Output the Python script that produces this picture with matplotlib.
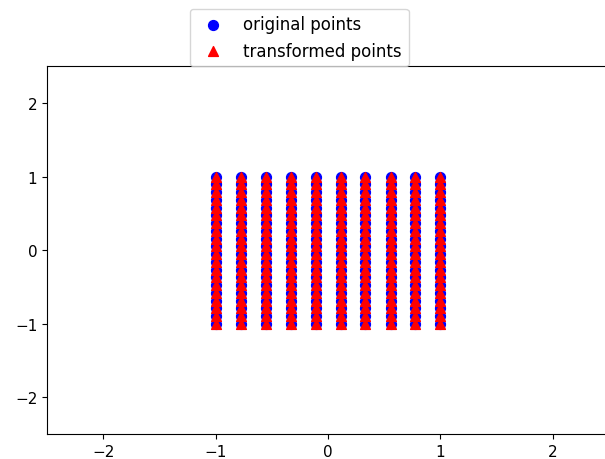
import numpy as np
import matplotlib.pyplot as plt

# grid columns (x) and rows (y) of the sample points
x_vals = [-1.0, -0.778, -0.556, -0.333, -0.111, 0.111, 0.333, 0.556, 0.778, 1.0]
y_vals = [-1.0, -0.895, -0.789, -0.684, -0.579, -0.474, -0.368, -0.263, -0.158, -0.053,
          0.053, 0.158, 0.263, 0.368, 0.474, 0.579, 0.684, 0.789, 0.895, 1.0]

xx, yy = np.meshgrid(x_vals, y_vals)
orig = np.vstack([xx.ravel(), yy.ravel()])
# identity transform -> transformed points sit on top of the originals
A = np.array([[1.0, 0.0], [0.0, 1.0]])
trans = A @ orig

fig = plt.figure(figsize=(6.05, 4.6), dpi=100)
ax = fig.add_axes([0.0777, 0.0543, 0.929, 0.799])
ax.scatter(orig[0], orig[1], c='blue', marker='o', s=50, label='original points')
ax.scatter(trans[0], trans[1], c='red', marker='^', s=50, label='transformed points')
ax.set_xlim(-2.5, 2.5)
ax.set_ylim(-2.5, 2.5)
ax.set_xticks([-2, -1, 0, 1, 2])
ax.set_yticks([-2, -1, 0, 1, 2])
ax.tick_params(labelsize=11)
ax.legend(loc='upper center', bbox_to_anchor=(0.449, 1.18), fontsize=12)

fig.savefig('out.png', dpi=100)
